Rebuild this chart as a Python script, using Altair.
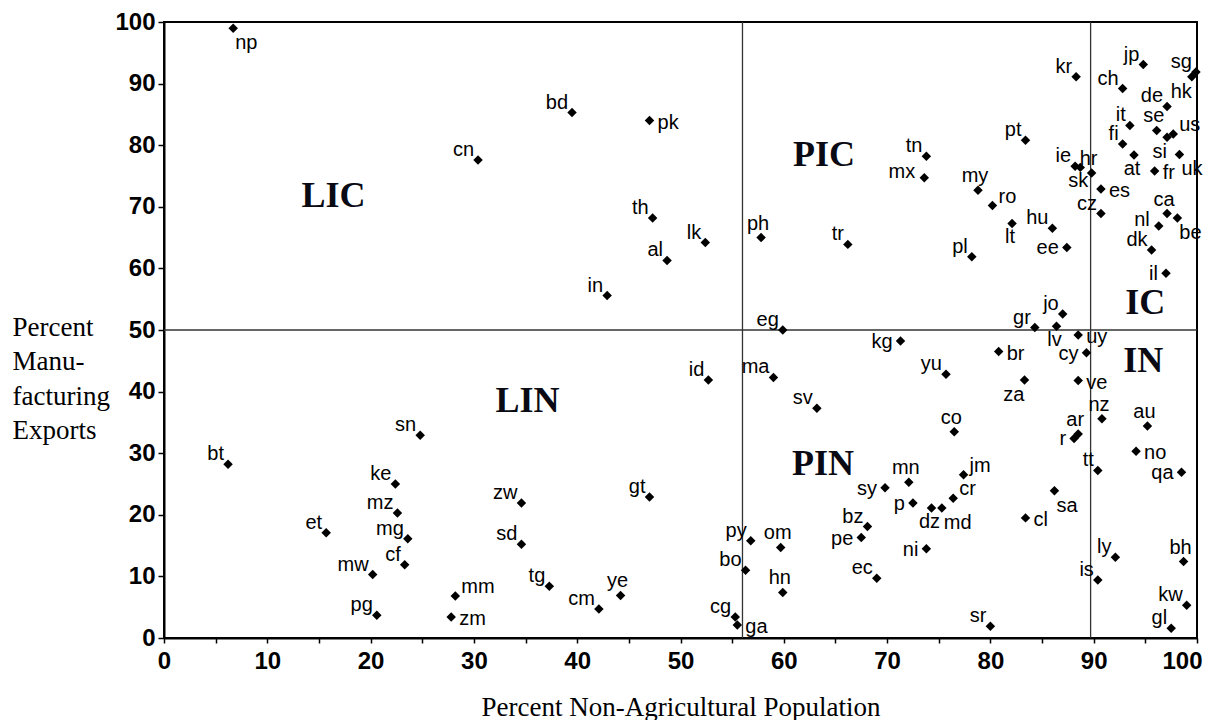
import altair as alt
import pandas as pd

# ---------------- data ----------------
codes = ["np", "cn", "bd", "pk", "th", "lk", "al", "in", "ph", "eg",
         "tr", "tn", "mx", "my", "ro", "pt", "lt", "pl", "hu", "ee",
         "kr", "ie", "sk", "hr", "es", "cz", "jp", "ch", "de", "sg",
         "hk", "it", "se", "us", "si", "fi", "at", "uk", "fr", "ca",
         "be", "nl", "dk", "il", "jo", "gr", "lv", "uy", "kg", "br",
         "cy", "yu", "za", "ve", "nz", "au", "ar", "r", "no", "co",
         "jm", "tt", "qa", "mn", "sy", "sa", "cr", "p", "dz", "md",
         "cl", "bz", "pe", "ni", "ly", "bh", "ec", "is", "kw", "sr",
         "gl", "sv", "id", "ma", "sn", "zw", "gt", "sd", "tg", "mm",
         "zm", "cm", "ye", "py", "om", "bo", "hn", "cg", "ga", "bt",
         "ke", "mz", "mg", "cf", "et", "mw", "pg"]
non_agri = [6.7, 30.4, 39.5, 47.0, 47.3, 52.4, 48.7, 42.9, 57.8, 59.9,
            66.2, 73.8, 73.6, 78.8, 80.2, 83.4, 82.1, 78.2, 86.0, 87.4,
            88.3, 88.2, 88.7, 89.8, 90.7, 90.7, 94.8, 92.8, 97.1, 99.9,
            99.5, 93.5, 96.1, 97.7, 97.1, 92.8, 93.9, 98.3, 95.9, 97.1,
            98.1, 96.3, 95.6, 97.0, 87.0, 84.3, 86.4, 88.5, 71.3, 80.8,
            89.3, 75.7, 83.3, 88.5, 90.8, 95.2, 88.5, 88.1, 94.1, 76.5,
            77.4, 90.4, 98.5, 72.1, 69.8, 86.2, 76.4, 72.5, 74.3, 75.3,
            83.4, 68.1, 67.5, 73.8, 92.1, 98.7, 69.0, 90.4, 99.0, 80.0,
            97.5, 63.2, 52.7, 59.0, 24.8, 34.6, 47.0, 34.6, 37.3, 28.2,
            27.8, 42.1, 44.2, 56.8, 59.7, 56.3, 59.9, 55.3, 55.5, 6.2,
            22.4, 22.6, 23.6, 23.3, 15.7, 20.2, 20.6]
manuf_exp = [99.0, 77.6, 85.3, 84.0, 68.2, 64.2, 61.3, 55.6, 65.0, 50.0,
             63.9, 78.2, 74.7, 72.7, 70.2, 80.8, 67.3, 61.9, 66.5, 63.4,
             91.1, 76.6, 76.4, 75.5, 72.9, 68.9, 93.1, 89.2, 86.3, 91.9,
             91.1, 83.2, 82.4, 81.8, 81.3, 80.2, 78.4, 78.5, 75.8, 68.9,
             68.2, 66.9, 63.0, 59.2, 52.6, 50.4, 50.6, 49.2, 48.2, 46.5,
             46.3, 42.8, 41.9, 41.8, 35.6, 34.4, 33.1, 32.4, 30.3, 33.5,
             26.5, 27.2, 26.9, 25.3, 24.4, 23.9, 22.7, 21.9, 21.1, 21.1,
             19.5, 18.1, 16.3, 14.5, 13.1, 12.4, 9.7, 9.4, 5.3, 1.9,
             1.6, 37.3, 41.9, 42.3, 32.9, 21.9, 22.9, 15.2, 8.4, 6.8,
             3.4, 4.7, 6.9, 15.8, 14.7, 11.0, 7.4, 3.4, 2.1, 28.2,
             25.0, 20.3, 16.1, 11.9, 17.1, 10.3, 3.7]

quad_names = ["LIC", "PIC", "IC", "LIN", "PIN", "IN"]
quad_x = [16.4, 63.9, 95.0, 35.2, 63.8, 94.8]
quad_y = [71.8, 78.4, 54.4, 38.4, 28.2, 45.0]

v_dividers = [56.0, 89.7]
h_dividers = [50.0]

x_ticks = list(range(0, 101, 5))
y_ticks = list(range(0, 101, 10))

# ---------------- style: label placement around each diamond ----------------
placement_groups = {
    "ul": ["cn", "bd", "th", "lk", "al", "in", "eg", "tr", "tn", "pt", "pl", "hu",
           "kr", "ie", "cz", "jp", "ch", "de", "sg", "it", "fi", "dk", "jo", "gr",
           "yu", "tt", "bz", "ly", "ec", "is", "kw", "sr", "gl", "sv", "id", "ma",
           "sn", "zw", "gt", "sd", "tg", "cm", "py", "bo", "cg", "bt", "ke", "mz",
           "mg", "cf", "et", "mw", "pg"],
    "u": ["ph", "my", "hr", "se", "ca", "nz", "au", "ar", "co", "mn", "bh", "ye",
          "om", "hn"],
    "ur": ["ro", "us", "jm", "cr", "mm"],
    "r": ["pk", "es", "fr", "uy", "br", "ve", "no", "cl", "zm", "ga"],
    "l": ["ee", "il", "kg", "cy", "r", "qa", "sy", "p", "pe", "ni"],
    "lu": ["mx", "nl"],
    "dl": ["hk", "si", "za"],
    "d": ["lt", "sk", "at", "lv", "dz"],
    "dr": ["np", "uk", "be", "sa", "md"],
}
placement_style = {
    "ul": dict(align="right", baseline="alphabetic", dx=-4, dy=-4),
    "u": dict(align="center", baseline="alphabetic", dx=-3, dy=-8),
    "ur": dict(align="left", baseline="alphabetic", dx=6, dy=-3),
    "r": dict(align="left", baseline="middle", dx=8, dy=2),
    "l": dict(align="right", baseline="middle", dx=-8, dy=1),
    "lu": dict(align="right", baseline="middle", dx=-9, dy=-6),
    "dl": dict(align="right", baseline="top", dx=0, dy=5),
    "d": dict(align="center", baseline="top", dx=-2, dy=4),
    "dr": dict(align="left", baseline="top", dx=2, dy=5),
}
side_of = {c: k for k, lst in placement_groups.items() for c in lst}

df = pd.DataFrame({"code": codes, "x": non_agri, "y": manuf_exp})
df["side"] = [side_of.get(c, "ul") for c in codes]
qdf = pd.DataFrame({"name": quad_names, "x": quad_x, "y": quad_y})
vdf = pd.DataFrame({"x": v_dividers})
hdf = pd.DataFrame({"y": h_dividers})

SANS = "Liberation Sans"
SERIF = "Liberation Serif"

x_axis = alt.Axis(
    values=x_ticks,
    labelExpr="datum.value % 10 == 0 ? datum.label : ''",
    labelAlign={"condition": {"test": "datum.value == 100", "value": "right"}, "value": "center"},
    labelOffset={"condition": {"test": "datum.value == 100", "value": 5}, "value": 0},
    labelFont=SANS, labelFontSize=24, labelFontWeight="bold", labelColor="black",
    labelPadding=6, tickSize=5, tickColor="black", tickWidth=1.5,
    domainColor="black", domainWidth=2, grid=False,
    title="Percent Non-Agricultural Population",
    titleFont=SERIF, titleFontSize=27, titleFontWeight="normal", titleColor="black",
    titleBaseline="alphabetic", titleY=77,
)
y_axis = alt.Axis(
    values=y_ticks,
    labelFont=SANS, labelFontSize=24, labelFontWeight="bold", labelColor="black",
    labelPadding=3, tickSize=6, tickColor="black", tickWidth=1.5,
    domainColor="black", domainWidth=2, grid=False,
    title=["Percent", "Manu-", "facturing", "Exports"],
    titleFont=SERIF, titleFontSize=27, titleFontWeight="normal", titleColor="black",
    titleAngle=0, titleAlign="left", titleBaseline="alphabetic",
    titleX=-152, titleY=313, titleLineHeight=34.5,
)

xs = alt.Scale(domain=[0, 100], nice=False, zero=False)
ys = alt.Scale(domain=[0, 100], nice=False, zero=False)
X = alt.X("x:Q", scale=xs, axis=x_axis)
Y = alt.Y("y:Q", scale=ys, axis=y_axis)

vlines = alt.Chart(vdf).mark_rule(color="#333333", strokeWidth=1.3).encode(x=X)
hlines = alt.Chart(hdf).mark_rule(color="#333333", strokeWidth=1.3).encode(y=Y)

points = alt.Chart(df).mark_point(
    shape="diamond", filled=True, color="black", size=90, opacity=1
).encode(x=X, y=Y)

label_layers = []
for side, st in placement_style.items():
    label_layers.append(
        alt.Chart(df).transform_filter(alt.datum.side == side).mark_text(
            font=SANS, fontSize=20, color="black", **st
        ).encode(x=X, y=Y, text="code:N")
    )

quads = alt.Chart(qdf).mark_text(
    font=SERIF, fontSize=36, fontWeight="bold", color="#0a0a14",
    align="center", baseline="middle"
).encode(x=X, y=Y, text="name:N")

chart = alt.layer(vlines, hlines, quads, points, *label_layers).properties(
    width=1033, height=616,
    padding={"left": 4, "top": 2, "right": 0, "bottom": 0},
    background="white",
).configure_view(stroke="black", strokeWidth=2)

chart.save("out.html", embed_options={"renderer": "svg", "actions": False})
